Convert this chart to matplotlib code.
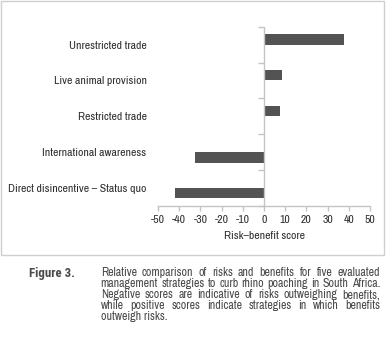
import matplotlib
matplotlib.use('Agg')
import matplotlib.pyplot as plt
import numpy as np
from matplotlib.patches import Rectangle

# ---- data ----
categories = ['Direct disincentive – Status quo', 'International awareness',
              'Restricted trade', 'Live animal provision', 'Unrestricted trade']
scores = [-41.8, -32.4, 7.5, 8.6, 37.7]
x_ticks = [-50, -40, -30, -20, -10, 0, 10, 20, 30, 40, 50]
x_label = 'Risk–benefit score'
caption_head = 'Figure 3.'
caption_lines = [
    'Relative comparison of risks and benefits for five evaluated',
    'management strategies to curb rhino poaching in South Africa.',
    'Negative scores are indicative of risks outweighing benefits,',
    'while positive scores indicate strategies in which benefits',
    'outweigh risks.',
]

# ---- style ----
W, H = 386, 351
FONT = ['Archivo Narrow', 'DejaVu Sans']
HEAD_FONT = ['Roboto Condensed', 'DejaVu Sans']
BAR = '#535353'
AXC = '#c4c4c4'
TXT = '#2e2e2e'
CAP = '#4a4a4a'

plt.rcParams['font.family'] = FONT

fig = plt.figure(figsize=(W / 100, H / 100), dpi=100)
renderer = fig.canvas.get_renderer()


def width_px(s, size, weight='normal', family=None):
    t = fig.text(0, 0, s, fontsize=size, fontweight=weight,
                 family=family or FONT)
    w = t.get_window_extent(renderer).width
    t.remove()
    return w


# size fonts so the label widths match the reference layout
FS = 10 * 77.7 / width_px(categories[-1], 10)
CFS = 10 * 276.0 / width_px(caption_lines[1], 10)
HFS = 10 * 46.0 / width_px(caption_head, 10, 'bold', HEAD_FONT)

ax = fig.add_axes([158 / W, 1 - 206 / H, (370 - 158) / W, (206 - 26.7) / H])

vals = np.array(scores)
y = np.arange(len(categories))
h = 0.287
pos = vals >= 0
neg = ~pos
# two-slot clustered layout: positive bars above centre, negative below
ax.barh(y[pos], vals[pos], height=h, align='edge', color=BAR)
ax.barh(y[neg] - h, vals[neg], height=h, align='edge', color=BAR)

ax.set_xlim(x_ticks[0], x_ticks[-1])
ax.set_ylim(-0.5, len(categories) - 0.5)

for s in ['top', 'right', 'left']:
    ax.spines[s].set_visible(False)
ax.spines['bottom'].set_color(AXC)
ax.spines['bottom'].set_linewidth(1.0)

ax.set_xticks(x_ticks)
ax.set_xticklabels([str(t) for t in x_ticks])
ax.tick_params(axis='x', length=3.5, width=1.0, color=AXC, labelcolor=TXT,
               labelsize=FS, pad=3)
ax.set_yticks(y)
ax.set_yticklabels(categories)
ax.tick_params(axis='y', length=0, labelcolor=TXT, labelsize=FS, pad=8.2)
ax.set_xlabel(x_label, fontsize=FS, color=TXT, labelpad=4)

# zero axis with category-boundary ticks
ax.axvline(0, color=AXC, lw=1.0, zorder=3)
bounds = np.arange(-0.5, len(categories), 1.0)
ax.plot(np.zeros(len(bounds)), bounds, ls='none', marker=0, ms=4, mew=1.0,
        color=AXC, clip_on=False, zorder=3)

# frame around chart
fig.add_artist(Rectangle((1.0 / W, 1 - 254.7 / H), 383.3 / W, 253.7 / H,
                         transform=fig.transFigure, fill=False,
                         edgecolor='#cfcfcf', lw=1.0))

# caption (justified)
x0, x1 = 100.7, 380.0
baselines = [276.5, 287.4, 298.3, 309.2, 320.1]
fig.text(29 / W, 1 - baselines[0] / H, caption_head, fontsize=HFS,
         fontweight='bold', family=HEAD_FONT, color=CAP,
         va='baseline', ha='left')
for i, line in enumerate(caption_lines):
    yb = 1 - baselines[i] / H
    words = line.split()
    if i == len(caption_lines) - 1:
        fig.text(x0 / W, yb, line, fontsize=CFS, color=CAP,
                 va='baseline', ha='left')
        continue
    texts = [fig.text(0, yb, w, fontsize=CFS, color=CAP,
                      va='baseline', ha='left') for w in words]
    widths = [t.get_window_extent(renderer).width for t in texts]
    gap = ((x1 - x0) - sum(widths)) / (len(words) - 1)
    xx = x0
    for t, wd in zip(texts, widths):
        t.set_x(xx / W)
        xx += wd + gap

fig.savefig('out.png', dpi=100)
